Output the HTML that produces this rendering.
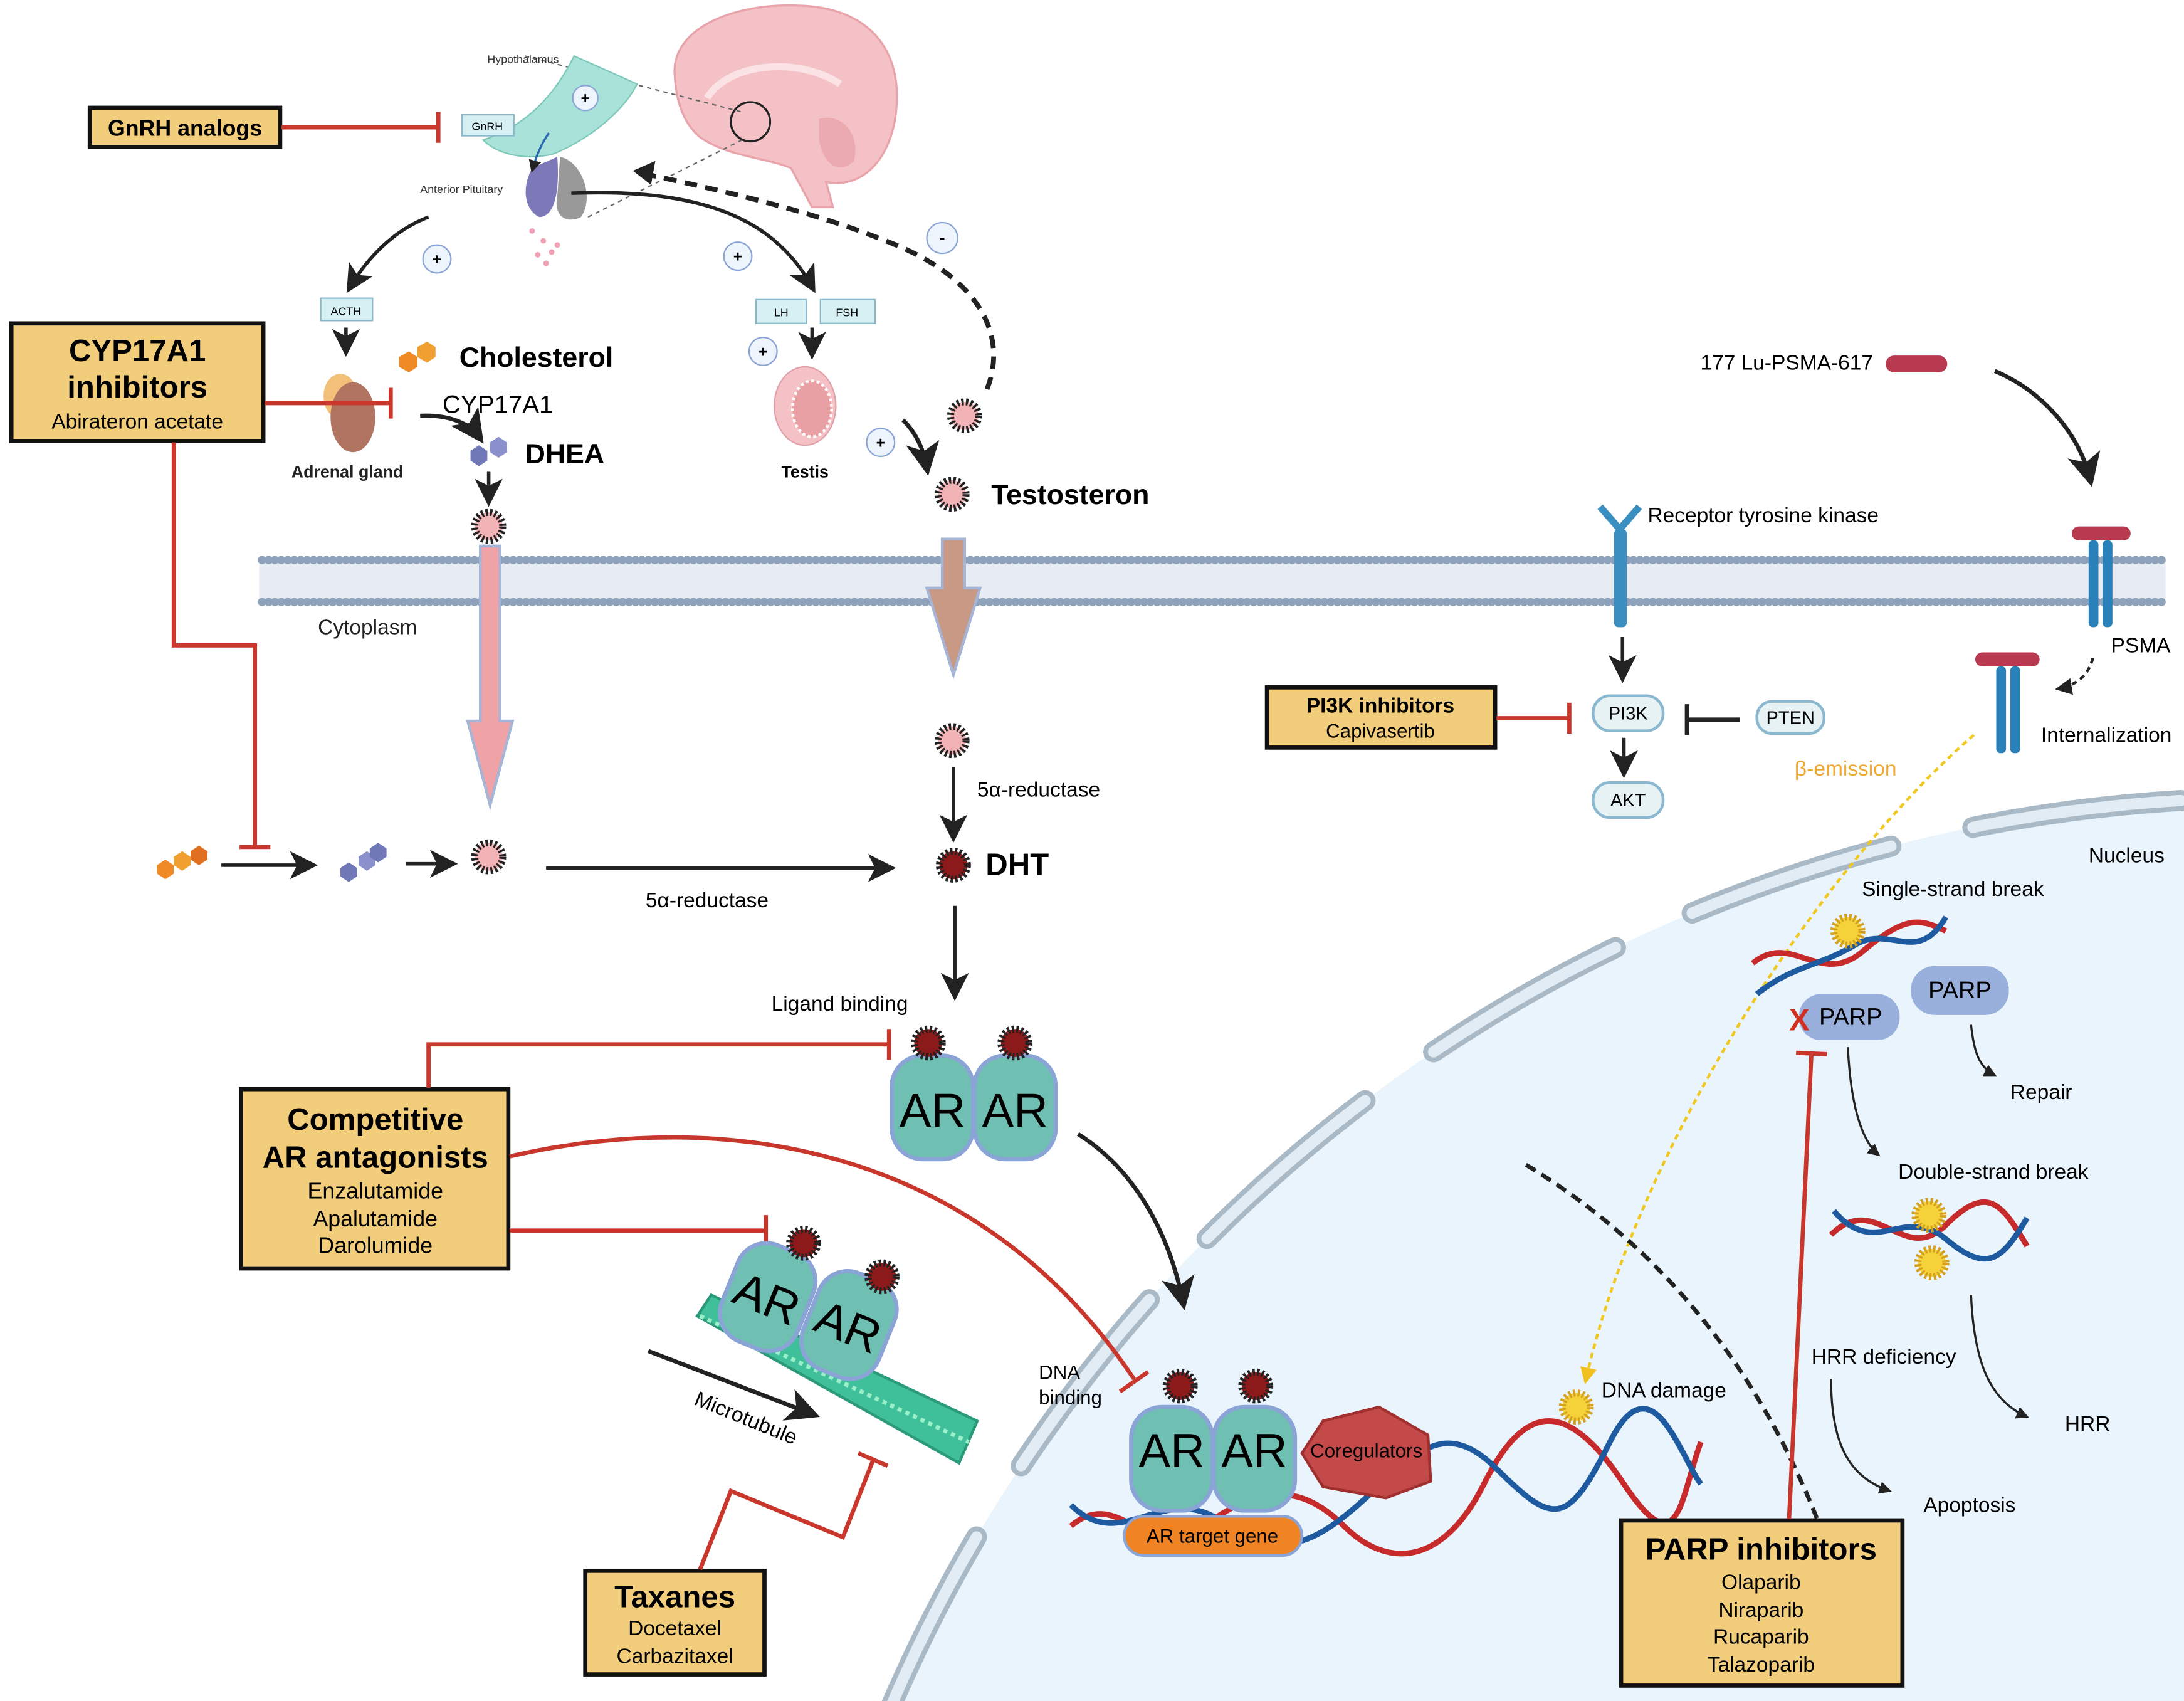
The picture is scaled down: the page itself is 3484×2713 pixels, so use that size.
<!DOCTYPE html>
<html><head><meta charset="utf-8"><style>
html,body{margin:0;padding:0;background:#fff;overflow:hidden;width:3484px;height:2713px}
svg{display:block}
text{font-family:"Liberation Sans",sans-serif}
</style></head><body>
<svg width="3484" height="2713" viewBox="0 0 1560 1215" xmlns="http://www.w3.org/2000/svg">
<defs>
<marker id="ah" markerWidth="8" markerHeight="8" refX="6" refY="4" orient="auto" markerUnits="strokeWidth"><path d="M0,0 L8,4 L0,8 L2,4 z" fill="#222"/></marker>
<marker id="ahb" markerWidth="6" markerHeight="6" refX="5" refY="3" orient="auto" markerUnits="strokeWidth"><path d="M0,0 L6,3 L0,6 z" fill="#222"/></marker>
<marker id="ahy" markerWidth="6" markerHeight="6" refX="4" refY="3" orient="auto" markerUnits="strokeWidth"><path d="M0,0 L6,3 L0,6 z" fill="#f0c020"/></marker>
<g id="star"><circle r="10" fill="#f2b3b6" stroke="#222" stroke-width="5" stroke-dasharray="1.6 1.6"/></g>
<g id="dstar"><circle r="10" fill="#8c1a1a" stroke="#222" stroke-width="5" stroke-dasharray="1.6 1.6"/></g>
<g id="ystar"><circle r="10" fill="#f6d23a" stroke="#d4a020" stroke-width="5" stroke-dasharray="1.6 1.6"/></g>
<g id="ar"><rect x="0" y="0" width="58" height="74" rx="22" fill="#6fc0b2" stroke="#8aa4d6" stroke-width="3"/></g>
</defs>

<!-- nucleus -->
<circle cx="1620" cy="1640" r="1070" fill="#eaf4fc"/>
<circle cx="1620" cy="1640" r="1070" fill="none" stroke="#a9b9c6" stroke-width="15" stroke-linecap="round" stroke-dasharray="150 60"/>
<circle cx="1620" cy="1640" r="1070" fill="none" stroke="#e2ecf4" stroke-width="8" stroke-linecap="round" stroke-dasharray="150 60"/>

<!-- membrane -->
<rect x="185" y="402" width="1362" height="26" fill="#e6ecf2"/>
<line x1="187" y1="400" x2="1547" y2="400" stroke="#8ea3bb" stroke-width="6" stroke-dasharray="0.1 4.5" stroke-linecap="round"/>
<line x1="187" y1="430" x2="1547" y2="430" stroke="#8ea3bb" stroke-width="6" stroke-dasharray="0.1 4.5" stroke-linecap="round"/>
<text x="227" y="453" font-size="15" fill="#222">Cytoplasm</text>

<!-- brain -->
<path d="M482,55 C478,20 525,2 570,4 C620,5 645,35 640,80 C636,115 615,135 590,130 L595,148 L580,148 L565,120 C545,112 520,112 500,98 C488,88 483,72 482,55 z" fill="#f4c2c6" stroke="#e8a4aa" stroke-width="1.5"/>
<path d="M505,70 C520,45 570,40 600,60" fill="none" stroke="#fbe2e4" stroke-width="5"/>
<path d="M585,85 C600,80 615,95 610,115 C600,125 588,118 585,100 z" fill="#eaaab0"/>
<circle cx="536" cy="87" r="14" fill="none" stroke="#222" stroke-width="1.5"/>
<line x1="375" y1="40" x2="530" y2="80" stroke="#666" stroke-dasharray="3 3"/>
<line x1="420" y1="155" x2="530" y2="100" stroke="#666" stroke-dasharray="3 3"/>
<!-- hypothalamus / pituitary -->
<path d="M410,40 L455,60 C445,80 420,100 395,110 C375,115 355,110 345,100 C375,90 395,70 410,40 z" fill="#a9e2d8" stroke="#7ec8bb"/>
<path d="M398,112 C400,140 395,155 385,155 C375,150 372,135 380,120 z" fill="#7d78b8"/>
<path d="M400,112 C415,115 425,140 415,155 C405,160 395,155 398,140 z" fill="#999"/>
<circle cx="418" cy="70" r="9" fill="#eef4fc" stroke="#8aa4d6"/><text x="418" y="74" font-size="11" text-anchor="middle" font-weight="bold">+</text>
<rect x="330" y="82" width="37" height="15" fill="#d6f0f4" stroke="#8ab8c8"/><text x="348" y="93" font-size="8" text-anchor="middle">GnRH</text>
<text x="348" y="45" font-size="8" fill="#333">Hypothalamus</text>
<text x="300" y="138" font-size="8" fill="#333">Anterior Pituitary</text>
<path d="M392,95 C385,105 382,115 380,122" fill="none" stroke="#2a6ab0" stroke-width="1.5" marker-end="url(#ahb)"/>
<g fill="#f2a0b4"><circle cx="380" cy="165" r="2"/><circle cx="388" cy="172" r="2"/><circle cx="384" cy="182" r="2"/><circle cx="394" cy="180" r="2"/><circle cx="390" cy="188" r="2"/><circle cx="398" cy="175" r="2"/></g>

<!-- GnRH analogs -->
<rect x="64" y="77" width="136" height="28" fill="#f1cd7c" stroke="#111" stroke-width="3"/>
<text x="132" y="97" font-size="16" font-weight="bold" text-anchor="middle">GnRH analogs</text>
<line x1="201" y1="91" x2="312" y2="91" stroke="#c9362c" stroke-width="3"/><line x1="313" y1="80" x2="313" y2="102" stroke="#c9362c" stroke-width="3"/>

<!-- pituitary arrows -->
<path d="M306,155 C280,165 262,185 250,205" fill="none" stroke="#222" stroke-width="2.5" marker-end="url(#ah)"/>
<circle cx="312" cy="185" r="10" fill="#eef4fc" stroke="#8aa4d6"/><text x="312" y="189" font-size="11" text-anchor="middle" font-weight="bold">+</text>
<path d="M408,138 C490,135 550,150 580,205" fill="none" stroke="#222" stroke-width="2.5" marker-end="url(#ah)"/>
<circle cx="527" cy="183" r="10" fill="#eef4fc" stroke="#8aa4d6"/><text x="527" y="187" font-size="11" text-anchor="middle" font-weight="bold">+</text>
<path d="M705,278 C720,240 700,200 640,175 C580,150 510,135 455,123" fill="none" stroke="#222" stroke-width="3.5" stroke-dasharray="9 6"/>
<path d="M452,122 L468,115 L465,132 z" fill="#222"/>
<circle cx="673" cy="170" r="11" fill="#eef4fc" stroke="#8aa4d6"/><text x="673" y="174" font-size="12" text-anchor="middle" font-weight="bold">-</text>

<rect x="229" y="213" width="37" height="16" fill="#d6f0f4" stroke="#8ab8c8"/><text x="247" y="225" font-size="8" text-anchor="middle">ACTH</text>
<rect x="540" y="214" width="36" height="17" fill="#d6f0f4" stroke="#8ab8c8"/><text x="558" y="226" font-size="8" text-anchor="middle">LH</text>
<rect x="586" y="214" width="39" height="17" fill="#d6f0f4" stroke="#8ab8c8"/><text x="605" y="226" font-size="8" text-anchor="middle">FSH</text>
<line x1="247" y1="234" x2="247" y2="250" stroke="#222" stroke-width="2.5" marker-end="url(#ah)"/>
<line x1="580" y1="234" x2="580" y2="252" stroke="#222" stroke-width="2.5" marker-end="url(#ah)"/>
<circle cx="545" cy="251" r="10" fill="#eef4fc" stroke="#8aa4d6"/><text x="545" y="255" font-size="11" text-anchor="middle" font-weight="bold">+</text>

<!-- adrenal -->
<ellipse cx="243" cy="283" rx="12" ry="16" fill="#f3c07a"/>
<ellipse cx="252" cy="298" rx="16" ry="25" fill="#b07460"/>
<text x="248" y="341" font-size="12" font-weight="bold" text-anchor="middle" fill="#222">Adrenal gland</text>
<!-- cholesterol -->
<g fill="#f08a24"><polygon points="285,255 292,251 298,255 298,262 292,266 285,262"/><polygon points="298,248 305,244 311,248 311,255 305,259 298,255" fill="#f0a030"/></g>
<text x="328" y="262" font-size="20" font-weight="bold">Cholesterol</text>
<text x="316" y="295" font-size="18">CYP17A1</text>
<path d="M300,297 C320,296 335,302 342,312" fill="none" stroke="#222" stroke-width="3" marker-end="url(#ah)"/>
<g fill="#7078b8"><polygon points="336,322 342,318 348,322 348,329 342,333 336,329"/><polygon points="350,316 356,312 362,316 362,323 356,327 350,323" fill="#8a90cc"/></g>
<text x="375" y="331" font-size="20" font-weight="bold">DHEA</text>
<line x1="349" y1="337" x2="349" y2="357" stroke="#222" stroke-width="2.5" marker-end="url(#ah)"/>
<use href="#star" x="349" y="376"/>

<!-- CYP17A1 box -->
<rect x="8" y="231" width="180" height="84" fill="#f1cd7c" stroke="#111" stroke-width="3"/>
<text x="98" y="258" font-size="22" font-weight="bold" text-anchor="middle">CYP17A1</text>
<text x="98" y="284" font-size="22" font-weight="bold" text-anchor="middle">inhibitors</text>
<text x="98" y="306" font-size="15" text-anchor="middle">Abirateron acetate</text>
<line x1="189" y1="288" x2="278" y2="288" stroke="#c9362c" stroke-width="3"/><line x1="279" y1="277" x2="279" y2="299" stroke="#c9362c" stroke-width="3"/>
<polyline points="124,316 124,461 182,461 182,604" fill="none" stroke="#c9362c" stroke-width="3"/><line x1="171" y1="605" x2="193" y2="605" stroke="#c9362c" stroke-width="3"/>

<!-- testis -->
<ellipse cx="575" cy="290" rx="22" ry="28" fill="#f4c2c6" stroke="#e0a0a8"/>
<ellipse cx="580" cy="292" rx="14" ry="20" fill="#e8a0a4" stroke="#fff" stroke-width="2" stroke-dasharray="2 2"/>
<text x="575" y="341" font-size="12" font-weight="bold" text-anchor="middle">Testis</text>
<path d="M645,300 C655,310 660,322 662,334" fill="none" stroke="#222" stroke-width="3" marker-end="url(#ah)"/>
<circle cx="629" cy="316" r="10" fill="#eef4fc" stroke="#8aa4d6"/><text x="629" y="320" font-size="11" text-anchor="middle" font-weight="bold">+</text>
<use href="#star" x="689" y="297"/>
<use href="#star" x="680" y="353"/>
<text x="708" y="360" font-size="20" font-weight="bold">Testosteron</text>

<!-- big arrows -->
<path d="M343,390 L357,390 L357,515 L366,515 L350,575 L334,515 L343,515 z" fill="#f0a3a6" stroke="#a6b4d6" stroke-width="2"/>
<path d="M673,385 L689,385 L689,420 L700,420 L681,482 L662,420 L673,420 z" fill="#c89a86" stroke="#a6b4d6" stroke-width="2"/>

<!-- lower left pathway -->
<g fill="#f08a24"><polygon points="112,618 118,614 124,618 124,624 118,628 112,624"/><polygon points="124,612 130,608 136,612 136,618 130,622 124,618" fill="#f0a030"/><polygon points="136,608 142,604 148,608 148,614 142,618 136,614" fill="#e07020"/></g>
<line x1="158" y1="618" x2="222" y2="618" stroke="#222" stroke-width="2.5" marker-end="url(#ah)"/>
<g fill="#7078b8"><polygon points="243,620 249,616 255,620 255,626 249,630 243,626"/><polygon points="256,612 262,608 268,612 268,618 262,622 256,618" fill="#8a90cc"/><polygon points="264,606 270,602 276,606 276,612 270,616 264,612"/></g>
<line x1="290" y1="617" x2="322" y2="617" stroke="#222" stroke-width="2.5" marker-end="url(#ah)"/>
<use href="#star" x="349" y="612"/>
<line x1="390" y1="620" x2="635" y2="620" stroke="#222" stroke-width="2.5" marker-end="url(#ah)"/>
<text x="505" y="648" font-size="15" text-anchor="middle">5α-reductase</text>
<use href="#star" x="680" y="529"/>
<line x1="681" y1="548" x2="681" y2="597" stroke="#222" stroke-width="2.5" marker-end="url(#ah)"/>
<text x="698" y="569" font-size="15">5α-reductase</text>
<use href="#dstar" x="681" y="618"/>
<text x="704" y="625" font-size="22" font-weight="bold">DHT</text>
<line x1="682" y1="647" x2="682" y2="710" stroke="#222" stroke-width="2.5" marker-end="url(#ah)"/>
<text x="551" y="722" font-size="15">Ligand binding</text>

<!-- AR dimer top -->
<use href="#ar" x="637" y="754"/><use href="#ar" x="696" y="754"/>
<text x="666" y="805" font-size="34" text-anchor="middle">AR</text><text x="725" y="805" font-size="34" text-anchor="middle">AR</text>
<use href="#dstar" x="663" y="745"/><use href="#dstar" x="725" y="745"/>
<path d="M770,810 C810,835 835,880 845,930" fill="none" stroke="#222" stroke-width="3" marker-end="url(#ah)"/>

<!-- Competitive AR box -->
<rect x="172" y="778" width="191" height="128" fill="#f1cd7c" stroke="#111" stroke-width="3"/>
<text x="268" y="807" font-size="22" font-weight="bold" text-anchor="middle">Competitive</text>
<text x="268" y="834" font-size="22" font-weight="bold" text-anchor="middle">AR antagonists</text>
<text x="268" y="856" font-size="16" text-anchor="middle">Enzalutamide</text>
<text x="268" y="876" font-size="16" text-anchor="middle">Apalutamide</text>
<text x="268" y="895" font-size="16" text-anchor="middle">Darolumide</text>
<polyline points="306,777 306,746 634,746" fill="none" stroke="#c9362c" stroke-width="3"/><line x1="635" y1="735" x2="635" y2="757" stroke="#c9362c" stroke-width="3"/>
<line x1="364" y1="879" x2="546" y2="879" stroke="#c9362c" stroke-width="3"/><line x1="547" y1="868" x2="547" y2="890" stroke="#c9362c" stroke-width="3"/>
<path d="M364,826 C520,790 700,820 810,985" fill="none" stroke="#c9362c" stroke-width="3"/><line x1="800" y1="994" x2="820" y2="980" stroke="#c9362c" stroke-width="3"/>

<!-- microtubule + AR -->
<line x1="463" y1="965" x2="580" y2="1010" stroke="#222" stroke-width="3" marker-end="url(#ah)"/>
<path d="M498,940 L508,925 L698,1015 L685,1045 z" fill="#3fbf9a" stroke="#2a9a78" stroke-width="2"/>
<path d="M500,940 L692,1030" stroke="#9af0c8" stroke-width="3" stroke-dasharray="3 3"/>
<g transform="rotate(22 550 925)"><use href="#ar" x="520" y="890"/><text x="549" y="940" font-size="34" text-anchor="middle">AR</text></g>
<g transform="rotate(22 608 945)"><use href="#ar" x="578" y="910"/><text x="607" y="960" font-size="34" text-anchor="middle">AR</text></g>
<use href="#dstar" x="574" y="888"/><use href="#dstar" x="630" y="912"/>
<text x="495" y="1003" font-size="15" transform="rotate(22 495 1003)">Microtubule</text>

<!-- Taxanes -->
<rect x="418" y="1122" width="128" height="74" fill="#f1cd7c" stroke="#111" stroke-width="3"/>
<text x="482" y="1148" font-size="22" font-weight="bold" text-anchor="middle">Taxanes</text>
<text x="482" y="1168" font-size="15" text-anchor="middle">Docetaxel</text>
<text x="482" y="1188" font-size="15" text-anchor="middle">Carbazitaxel</text>
<polyline points="500,1121 522,1065 602,1098 624,1042" fill="none" stroke="#c9362c" stroke-width="3"/><line x1="613" y1="1038" x2="634" y2="1047" stroke="#c9362c" stroke-width="3"/>

<!-- DNA bottom -->
<path d="M765,1090 C800,1060 820,1120 860,1090 S930,1060 960,1090 S1030,1120 1060,1060 S1120,1000 1160,1060 S1200,1070 1215,1030" fill="none" stroke="#c62a2a" stroke-width="4"/>
<path d="M765,1075 C800,1110 830,1060 870,1085 S930,1110 970,1075 S1030,1010 1070,1050 S1120,1090 1150,1030 S1200,1040 1215,1060" fill="none" stroke="#1d5aa0" stroke-width="4"/>
<rect x="803" y="1083" width="127" height="28" rx="14" fill="#f08424" stroke="#8aa4d6" stroke-width="2"/>
<text x="866" y="1102" font-size="14" text-anchor="middle">AR target gene</text>
<use href="#ar" x="808" y="1005"/><use href="#ar" x="867" y="1005"/>
<text x="837" y="1048" font-size="34" text-anchor="middle">AR</text><text x="896" y="1048" font-size="34" text-anchor="middle">AR</text>
<use href="#dstar" x="843" y="990"/><use href="#dstar" x="897" y="990"/>
<polygon points="945,1015 985,1005 1020,1025 1022,1058 990,1070 945,1062 930,1038" fill="#c44a4a" stroke="#a03030" stroke-width="2"/>
<text x="976" y="1041" font-size="14" text-anchor="middle">Coregulators</text>
<text x="742" y="985" font-size="14">DNA</text><text x="742" y="1003" font-size="14">binding</text>
<use href="#ystar" x="1126" y="1005"/>
<text x="1144" y="998" font-size="15">DNA damage</text>

<!-- RTK / PI3K -->
<path d="M1143,362 L1157,378 L1171,362" fill="none" stroke="#3a8fc0" stroke-width="5"/>
<rect x="1153" y="378" width="9" height="70" rx="3" fill="#3a8fc0"/>
<text x="1177" y="373" font-size="15">Receptor tyrosine kinase</text>
<line x1="1159" y1="455" x2="1159" y2="483" stroke="#222" stroke-width="2.5" marker-end="url(#ah)"/>
<rect x="1138" y="497" width="50" height="25" rx="12" fill="#e6f2f4" stroke="#8ab8d0" stroke-width="2"/><text x="1163" y="514" font-size="13" text-anchor="middle">PI3K</text>
<line x1="1160" y1="527" x2="1160" y2="551" stroke="#222" stroke-width="2.5" marker-end="url(#ah)"/>
<rect x="1138" y="559" width="50" height="25" rx="12" fill="#e6f2f4" stroke="#8ab8d0" stroke-width="2"/><text x="1163" y="576" font-size="13" text-anchor="middle">AKT</text>
<rect x="1255" y="501" width="48" height="23" rx="11" fill="#e6f2f4" stroke="#8ab8d0" stroke-width="2"/><text x="1279" y="517" font-size="13" text-anchor="middle">PTEN</text>
<line x1="1243" y1="514" x2="1205" y2="514" stroke="#222" stroke-width="3"/><line x1="1205" y1="503" x2="1205" y2="525" stroke="#222" stroke-width="3"/>
<rect x="905" y="491" width="163" height="43" fill="#f1cd7c" stroke="#111" stroke-width="3"/>
<text x="986" y="509" font-size="15" font-weight="bold" text-anchor="middle">PI3K inhibitors</text>
<text x="986" y="527" font-size="14" text-anchor="middle">Capivasertib</text>
<line x1="1069" y1="513" x2="1120" y2="513" stroke="#c9362c" stroke-width="3"/><line x1="1121" y1="502" x2="1121" y2="524" stroke="#c9362c" stroke-width="3"/>

<!-- PSMA -->
<text x="1338" y="264" font-size="15" text-anchor="end">177 Lu-PSMA-617</text>
<rect x="1347" y="254" width="44" height="12" rx="6" fill="#b83a50"/>
<path d="M1425,265 C1460,280 1485,310 1493,342" fill="none" stroke="#222" stroke-width="3" marker-end="url(#ah)"/>
<rect x="1480" y="376" width="42" height="10" rx="5" fill="#b83a50"/>
<rect x="1492" y="386" width="7" height="62" rx="3" fill="#2a80b8"/><rect x="1502" y="386" width="7" height="62" rx="3" fill="#2a80b8"/>
<text x="1508" y="466" font-size="15">PSMA</text>
<path d="M1495,470 C1492,483 1482,490 1470,492" fill="none" stroke="#222" stroke-width="2" stroke-dasharray="4 3" marker-end="url(#ahb)"/>
<rect x="1411" y="466" width="46" height="10" rx="5" fill="#b83a50"/>
<rect x="1426" y="476" width="7" height="62" rx="3" fill="#2a80b8"/><rect x="1436" y="476" width="7" height="62" rx="3" fill="#2a80b8"/>
<text x="1458" y="530" font-size="15">Internalization</text>
<text x="1282" y="554" font-size="15" fill="#f0a830">β-emission</text>
<path d="M1410,525 C1300,620 1170,820 1133,985" fill="none" stroke="#f0c820" stroke-width="2" stroke-dasharray="4 3" marker-end="url(#ahy)"/>
<text x="1492" y="616" font-size="15">Nucleus</text>

<!-- PARP area -->
<text x="1330" y="640" font-size="15">Single-strand break</text>
<path d="M1252,688 C1280,665 1300,705 1330,680 S1370,655 1390,665" fill="none" stroke="#c62a2a" stroke-width="4"/>
<path d="M1255,710 C1280,690 1300,690 1325,675 S1370,690 1390,655" fill="none" stroke="#1d5aa0" stroke-width="4"/>
<use href="#ystar" x="1320" y="665"/>
<rect x="1365" y="690" width="70" height="35" rx="17" fill="#9ab0dc"/><text x="1400" y="713" font-size="17" text-anchor="middle">PARP</text>
<rect x="1285" y="710" width="72" height="33" rx="16" fill="#9ab0dc"/><text x="1322" y="732" font-size="17" text-anchor="middle">PARP</text>
<text x="1278" y="736" font-size="22" font-weight="bold" fill="#d03020">X</text>
<path d="M1408,732 C1410,750 1413,762 1425,768" fill="none" stroke="#222" stroke-width="1.5" marker-end="url(#ahb)"/>
<text x="1436" y="785" font-size="15">Repair</text>
<path d="M1320,748 C1322,790 1330,815 1342,825" fill="none" stroke="#222" stroke-width="1.5" marker-end="url(#ahb)"/>
<text x="1356" y="842" font-size="15">Double-strand break</text>
<path d="M1308,882 C1340,850 1360,905 1390,875 S1430,860 1448,890" fill="none" stroke="#c62a2a" stroke-width="4"/>
<path d="M1310,865 C1340,900 1360,860 1390,885 S1430,900 1448,870" fill="none" stroke="#1d5aa0" stroke-width="4"/>
<use href="#ystar" x="1378" y="868"/><use href="#ystar" x="1380" y="902"/>
<path d="M1408,925 C1410,970 1420,1000 1448,1012" fill="none" stroke="#222" stroke-width="1.5" marker-end="url(#ahb)"/>
<text x="1475" y="1022" font-size="15">HRR</text>
<text x="1294" y="974" font-size="15">HRR deficiency</text>
<path d="M1308,985 C1308,1030 1320,1055 1350,1065" fill="none" stroke="#222" stroke-width="1.5" marker-end="url(#ahb)"/>
<text x="1374" y="1080" font-size="15">Apoptosis</text>
<path d="M1090,832 C1170,880 1250,960 1300,1090" fill="none" stroke="#222" stroke-width="3" stroke-dasharray="8 5"/>
<rect x="1158" y="1086" width="201" height="118" fill="#f1cd7c" stroke="#111" stroke-width="3"/>
<text x="1258" y="1114" font-size="22" font-weight="bold" text-anchor="middle">PARP inhibitors</text>
<text x="1258" y="1135" font-size="15" text-anchor="middle">Olaparib</text>
<text x="1258" y="1155" font-size="15" text-anchor="middle">Niraparib</text>
<text x="1258" y="1174" font-size="15" text-anchor="middle">Rucaparib</text>
<text x="1258" y="1194" font-size="15" text-anchor="middle">Talazoparib</text>
<line x1="1278" y1="1085" x2="1294" y2="752" stroke="#c9362c" stroke-width="3"/><line x1="1283" y1="752" x2="1305" y2="753" stroke="#c9362c" stroke-width="3"/>
</svg>
</body></html>
